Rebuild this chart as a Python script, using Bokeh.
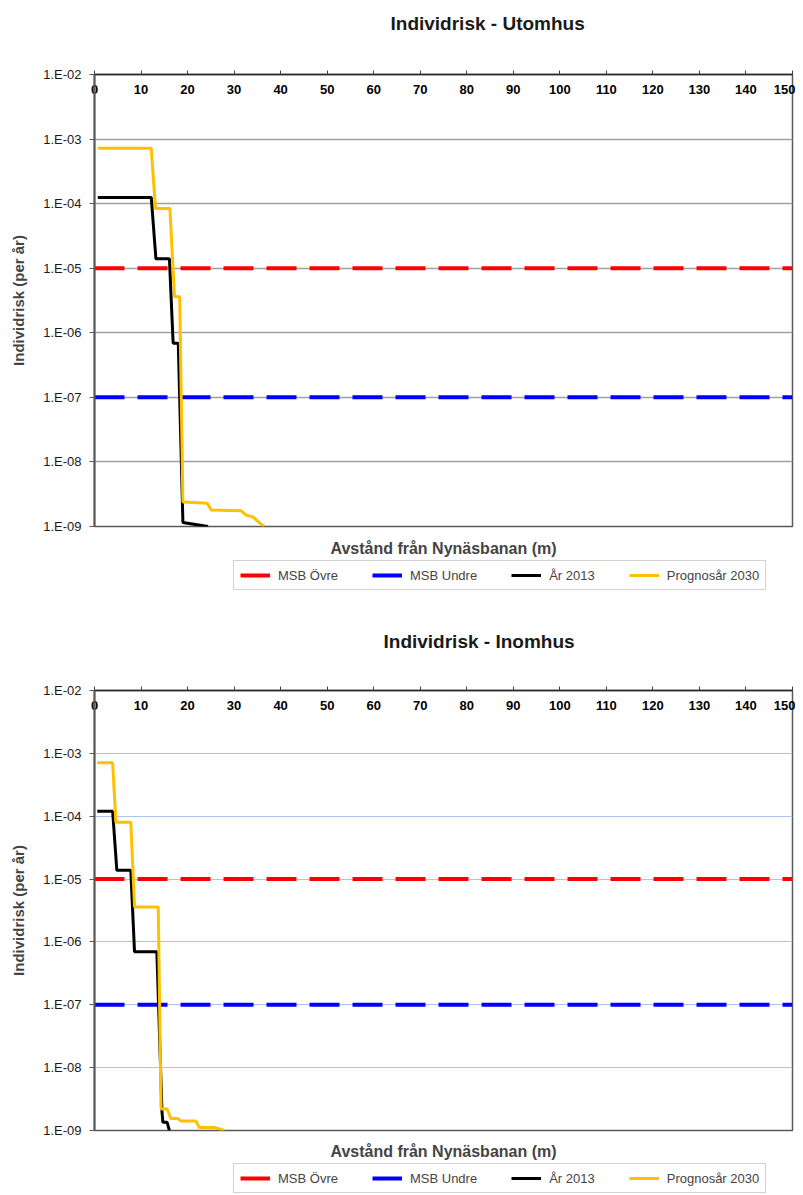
from bokeh.plotting import figure
from bokeh.models import (Range1d, FixedTicker, LinearAxis, Legend, LegendItem,
                          CustomJSTickFormatter, Title)
from bokeh.layouts import column
from bokeh.embed import file_html
from bokeh.resources import INLINE

# ---------------- data ----------------
x_ticks = list(range(0, 151, 10))
y_ticks = [1e-9, 1e-8, 1e-7, 1e-6, 1e-5, 1e-4, 1e-3, 1e-2]
y_tick_labels = ["1.E-09", "1.E-08", "1.E-07", "1.E-06", "1.E-05", "1.E-04", "1.E-03", "1.E-02"]

msb_x = [0, 150]
msb_ovre = [1e-5, 1e-5]
msb_undre = [1e-7, 1e-7]

# Utomhus
ut_2013_x = [0.7, 12.2, 13.2, 16.1, 16.9, 18.0, 19.0, 24.4]
ut_2013_y = [1.25e-4, 1.25e-4, 1.4e-5, 1.4e-5, 6.9e-7, 6.9e-7, 1.15e-9, 1.0e-9]
ut_2030_x = [0.7, 12.2, 13.1, 16.2, 17.2, 18.3, 19.0, 24.2, 25.1, 31.5, 32.6, 34.1, 35.4, 36.5]
ut_2030_y = [7.2e-4, 7.2e-4, 8.4e-5, 8.4e-5, 3.6e-6, 3.6e-6, 2.4e-9, 2.3e-9, 1.8e-9,
             1.75e-9, 1.5e-9, 1.4e-9, 1.15e-9, 1.0e-9]

# Inomhus
in_2013_x = [0.6, 3.9, 4.8, 7.8, 8.6, 13.4, 14.5, 14.7, 15.6, 16.1]
in_2013_y = [1.2e-4, 1.2e-4, 1.38e-5, 1.38e-5, 6.95e-7, 6.95e-7, 2.0e-9, 1.35e-9, 1.35e-9, 1.0e-9]
in_2030_x = [0.6, 3.9, 4.6, 7.8, 8.6, 13.7, 14.3, 15.6, 16.4, 17.9, 18.6, 21.8, 22.5, 25.7, 27.9]
in_2030_y = [7.1e-4, 7.1e-4, 8.0e-5, 8.0e-5, 3.6e-6, 3.6e-6, 2.2e-9, 2.2e-9, 1.55e-9, 1.55e-9,
             1.41e-9, 1.41e-9, 1.12e-9, 1.12e-9, 1.0e-9]

labels = ["MSB Övre", "MSB Undre", "År 2013", "Prognosår 2030"]
colors = ["#ff0000", "#0000ff", "#000000", "#ffc000"]
widths = [4, 4, 3, 3]

FONT = "Liberation Sans"
W = 795
NAN = float("nan")


def make_chart(title, x13, y13, x30, y30, height, mb_top, mb_bottom, grid_color,
               grid_width, spacer, title_offset, xlabel_standoff):
    p = figure(width=W, height=height, output_backend="svg", toolbar_location=None,
               x_range=Range1d(0, 150), y_range=Range1d(1e-9, 1e-2),
               y_axis_type="log", x_axis_location="above",
               min_border_left=94, min_border_right=3,
               min_border_top=mb_top, min_border_bottom=mb_bottom,
               background_fill_color="white", border_fill_color="white")

    p.outline_line_color = "#595959"
    p.outline_line_width = 1.5

    # x axis (top, labels drawn inside the plot area)
    xa = p.xaxis[0]
    xa.ticker = FixedTicker(ticks=x_ticks)
    xa.major_label_text_font = FONT
    xa.major_label_text_font_style = "bold"
    xa.major_label_text_font_size = "13px"
    xa.major_label_text_color = "black"
    xa.major_tick_out = 4
    xa.major_tick_in = 0
    xa.minor_tick_line_color = None
    xa.major_label_standoff = -23
    xa.axis_line_color = "#262626"
    xa.axis_line_width = 1.5
    xa.major_tick_line_color = "#404040"

    # spacer + title above the top axis
    p.add_layout(Title(text=" ", text_font_size="10px", standoff=spacer), "above")
    p.add_layout(Title(text=title, align="left", offset=title_offset, standoff=0,
                       text_font=FONT, text_font_size="19px", text_font_style="bold",
                       text_color="#1a1a1a"), "above")

    # y axis
    ya = p.yaxis[0]
    ya.ticker = FixedTicker(ticks=y_ticks)
    ya.formatter = CustomJSTickFormatter(args=dict(labels=y_tick_labels),
                                         code="const e = Math.round(Math.log10(tick)); return labels[e + 9];")
    ya.major_label_text_font = FONT
    ya.major_label_text_font_size = "13px"
    ya.major_label_text_color = "#1a1a1a"
    ya.major_tick_out = 5
    ya.major_tick_in = 0
    ya.minor_tick_line_color = None
    ya.major_label_standoff = 8
    ya.axis_line_color = "#595959"
    ya.axis_line_width = 2
    ya.major_tick_line_color = "#595959"
    ya.axis_label = "Individrisk (per år)"
    ya.axis_label_text_font = FONT
    ya.axis_label_text_font_size = "15px"
    ya.axis_label_text_font_style = "bold"
    ya.axis_label_standoff = 13

    # bottom axis title
    bx = LinearAxis(ticker=FixedTicker(ticks=[]), axis_line_color=None,
                    major_tick_line_color=None, minor_tick_line_color=None,
                    axis_label="Avstånd från Nynäsbanan (m)",
                    axis_label_text_font=FONT, axis_label_text_font_size="16px",
                    axis_label_text_font_style="bold", axis_label_standoff=xlabel_standoff)
    p.add_layout(bx, "below")

    p.xgrid.grid_line_color = None
    p.ygrid.grid_line_color = grid_color
    p.ygrid.grid_line_width = grid_width

    p.line(msb_x, msb_ovre, line_color=colors[0], line_width=widths[0], line_dash="30 13")
    p.line(msb_x, msb_undre, line_color=colors[1], line_width=widths[1], line_dash="30 13")
    p.line(x13, y13, line_color=colors[2], line_width=widths[2])
    p.line(x30, y30, line_color=colors[3], line_width=widths[3])
    return p


def make_legend(height, loc_y):
    lp = figure(width=W, height=height, output_backend="svg", toolbar_location=None,
                x_range=Range1d(0, 1), y_range=Range1d(0, 1),
                x_axis_type=None, y_axis_type=None, min_border=0,
                outline_line_color=None, background_fill_color="white",
                border_fill_color="white")
    lp.xgrid.visible = False
    lp.ygrid.visible = False
    rs = [lp.line(x=[NAN], y=[NAN], line_color=c, line_width=w) for c, w in zip(colors, widths)]
    legend = Legend(items=[LegendItem(label=l, renderers=[r]) for l, r in zip(labels, rs)],
                    orientation="horizontal", location=(139, loc_y),
                    label_text_font=FONT, label_text_font_size="13px",
                    glyph_width=30, glyph_height=16, label_height=16, label_standoff=8,
                    spacing=34, padding=6, margin=0,
                    border_line_color="#a6a6a6", border_line_width=1.5,
                    background_fill_color="white", background_fill_alpha=1.0)
    lp.add_layout(legend)
    return lp


p1 = make_chart("Individrisk - Utomhus", ut_2013_x, ut_2013_y, ut_2030_x, ut_2030_y,
                560, 74, 34, "#a0a0a0", 1.3, 28, 296, 13)
l1 = make_legend(40, 10)
p2 = make_chart("Individrisk - Inomhus", in_2013_x, in_2013_y, in_2030_x, in_2030_y,
                562, 90, 32, "#a9c6ec", 1.0, 26, 289, 12)
l2 = make_legend(33, 2)

layout = column(p1, l1, p2, l2, spacing=0)
open("out.html", "w").write(file_html(layout, INLINE))
